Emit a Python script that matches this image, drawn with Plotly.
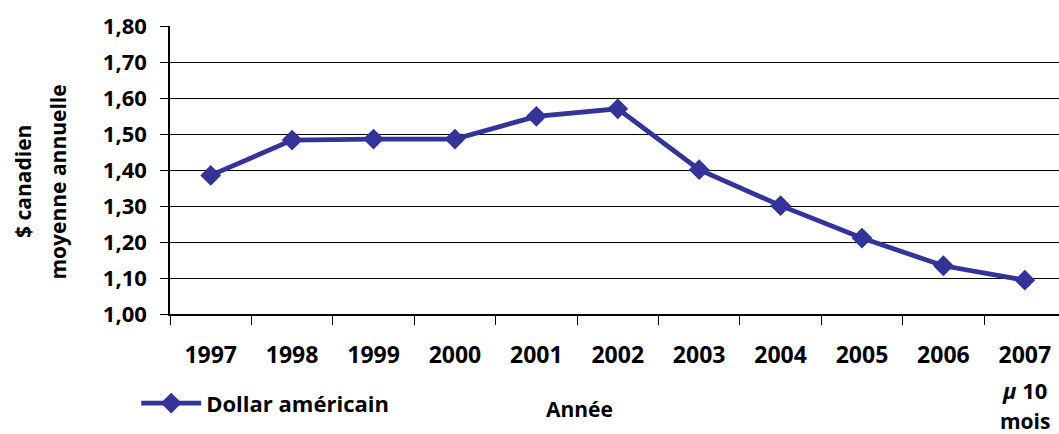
import plotly.graph_objects as go

years = ["1997", "1998", "1999", "2000", "2001", "2002", "2003", "2004", "2005", "2006", "2007"]
values = [1.385, 1.483, 1.486, 1.486, 1.549, 1.570, 1.401, 1.301, 1.211, 1.134, 1.094]
series_name = "Dollar américain"
y_tick_vals = [1.0, 1.1, 1.2, 1.3, 1.4, 1.5, 1.6, 1.7, 1.8]
y_tick_text = ["1,00", "1,10", "1,20", "1,30", "1,40", "1,50", "1,60", "1,70", "1,80"]

FONT = "Open Sans"
COLOR = "#333399"

fig = go.Figure()
fig.add_trace(go.Scatter(
    x=years, y=values, mode="lines+markers", name=series_name,
    line=dict(color=COLOR, width=4.8),
    marker=dict(symbol="diamond", size=16, color=COLOR),
))

fig.update_layout(
    width=1059, height=434,
    margin=dict(l=170, r=0, t=26, b=120, autoexpand=False),
    paper_bgcolor="white", plot_bgcolor="white",
    font=dict(family=FONT, size=19, color="black"),
    showlegend=True,
    legend=dict(x=-0.038, y=-0.31, xanchor="left", yanchor="middle", orientation="h",
                itemwidth=60, font=dict(family=FONT, size=22, color="black", weight="bold"),
                bgcolor="rgba(0,0,0,0)"),
    xaxis=dict(
        type="category", categoryorder="array", categoryarray=years,
        range=[-0.5, 10.42], showgrid=False, zeroline=False,
        showline=True, linecolor="black", linewidth=1.5,
        ticks="outside", ticklen=9, tickcolor="black", tickson="boundaries",
        ticklabelstandoff=20,
        tickfont=dict(family=FONT, size=23, color="black", weight="bold"),
    ),
    yaxis=dict(
        range=[1.0, 1.8], tickmode="array", tickvals=y_tick_vals, ticktext=y_tick_text,
        showgrid=True, gridcolor="black", gridwidth=1.2, zeroline=False,
        showline=True, linecolor="black", linewidth=1.5,
        ticks="outside", ticklen=8, tickcolor="black",
        ticklabelstandoff=9,
        tickfont=dict(family=FONT, size=22, color="black", weight="bold"),
    ),
)

last_idx = len(years) - 1
fig.add_annotation(text="Année", xref="paper", x=0.461, yref="paper", y=-0.33,
                   yanchor="middle", showarrow=False, font=dict(family=FONT, size=21, weight="bold"))
fig.add_annotation(text="<i>µ</i> 10", xref="x", x=last_idx, yref="paper", y=-0.264,
                   yanchor="middle", showarrow=False, font=dict(family=FONT, size=22, weight="bold"))
fig.add_annotation(text="mois", xref="x", x=last_idx, yref="paper", y=-0.37,
                   yanchor="middle", showarrow=False, font=dict(family=FONT, size=21, weight="bold"))
fig.add_annotation(text="$ canadien", xref="paper", x=-0.166, xanchor="center", yref="paper", y=0.46,
                   textangle=-90, showarrow=False, font=dict(family=FONT, size=21, weight="bold"))
fig.add_annotation(text="moyenne annuelle", xref="paper", x=-0.126, xanchor="center", yref="paper", y=0.46,
                   textangle=-90, showarrow=False, font=dict(family=FONT, size=21, weight="bold"))

fig.write_html("out.html", config={"displayModeBar": False},
               post_script="document.body.style.margin='0';document.body.style.overflow='hidden';")
